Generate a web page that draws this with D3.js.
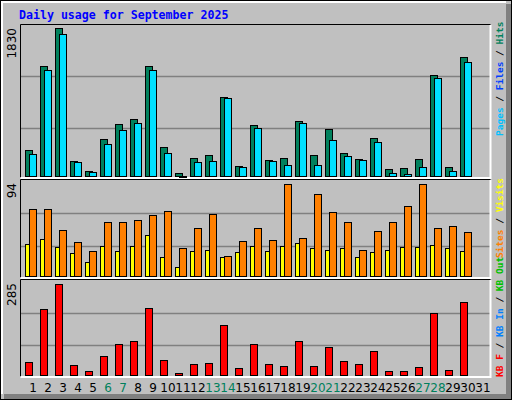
<!DOCTYPE html>
<html>
<head>
<meta charset="utf-8">
<script src="https://cdn.jsdelivr.net/npm/d3@7"></script>
<style>
  body { margin: 0; background: #fff; }
  svg text { font-family: "DejaVu Sans Mono", monospace; }
</style>
</head>
<body>
<svg id="chart" width="512" height="400"></svg>
<script>
// ---- Data
const days = d3.range(1, 32);
const weekendDays = [6, 7, 13, 14, 20, 21, 27, 28];
const hits   = [348, 1348, 1793, 216, 96, 481, 649, 710, 1348, 385, 72, 252, 288, 975, 156, 637,
                228, 252, 686, 288, 589, 312, 240, 493, 120, 132, 240, 1239, 144, 1444, null];
const files  = [300, 1291, 1725, 204, 84, 421, 577, 662, 1300, 312, 39, 204, 216, 963, 144, 601,
                216, 168, 662, 168, 469, 276, 228, 445, 72, 60, 144, 1203, 96, 1396, null];
const visits = [33, 38, 30, 25, 16, 31, 27, 31, 42, 21, 11, 27, 28, 21, 26, 31,
                27, 31, 34, 29, 28, 29, 21, 26, 28, 30, 30, 32, 29, 27, null];
const sites  = [66, 66, 47, 35, 27, 54, 54, 56, 61, 65, 29, 48, 62, 22, 36, 48,
                37, 90, 39, 81, 64, 54, 28, 46, 54, 69, 90, 48, 50, 45, null];
const kbytes = [46, 201, 273, 37, 20, 63, 98, 109, 204, 52, 14, 40, 43, 155, 29, 98,
                40, 35, 107, 35, 89, 49, 40, 78, 20, 20, 32, 190, 23, 222, null];
const maxLabels = [1830, 94, 285];

const svg = d3.select('#chart');
const W = 512, H = 400;

// ---- Frame
svg.append('rect').attr('x', 0).attr('y', 0).attr('width', W).attr('height', H).attr('fill', '#c0c0c0');
svg.append('rect').attr('x', W - 6).attr('y', 4).attr('width', 6).attr('height', H - 4).attr('fill', '#808080');
svg.append('rect').attr('x', 4).attr('y', H - 6).attr('width', W - 4).attr('height', 6).attr('fill', '#808080');
svg.append('path').attr('d', `M1.5,${H - 6} V1.5 H${W - 6}`).attr('fill', 'none').attr('stroke', '#fff').attr('stroke-width', 3);
svg.append('rect').attr('x', 0.5).attr('y', 0.5).attr('width', W - 1).attr('height', H - 1)
    .attr('fill', 'none').attr('stroke', '#000');

svg.append('text').attr('x', 19).attr('y', 19)
    .attr('fill', '#0000ff').attr('font-weight', 'bold').attr('font-size', 11.6)
    .text('Daily usage for September 2025');

// ---- Scales
const x = d3.scaleBand().domain(days).range([20, 20 + 15 * 31]);
const panels = [
  { top: 25, bottom: 177, max: maxLabels[0] },
  { top: 180, bottom: 277, max: maxLabels[1] },
  { top: 280, bottom: 376, max: maxLabels[2] }
];
panels.forEach(p => {
  const step = (p.bottom + 2 - p.top) / 3;
  p.y = d3.scaleLinear().domain([0, p.max]).range([p.top + 3 * step, p.top]);
});

// ---- Panels
panels.forEach((p, i) => {
  const g = svg.append('g');
  g.append('rect').attr('x', 20).attr('y', p.top).attr('width', 470).attr('height', p.bottom - p.top)
      .attr('fill', '#c0c0c0');
  [p.max / 3, p.max * 2 / 3].forEach(v => {
    g.append('line').attr('x1', 21).attr('x2', 490)
        .attr('y1', Math.round(p.y(v)) + 0.5).attr('y2', Math.round(p.y(v)) + 0.5)
        .attr('stroke', '#808080').attr('stroke-width', 1.5);
  });
  g.append('path').attr('d', `M20.5,${p.bottom + 0.5} V${p.top - 0.5} H490.5`)
      .attr('fill', 'none').attr('stroke', '#000');
  g.append('path').attr('d', `M20.5,${p.bottom + 1} H490.5 V${p.top}`)
      .attr('fill', 'none').attr('stroke', '#fff').attr('stroke-width', 2);
  svg.append('text')
      .attr('transform', `translate(16,${p.top + 3}) rotate(-90)`)
      .attr('text-anchor', 'end')
      .attr('font-family', 'DejaVu Sans').attr('font-size', 12).attr('fill', '#000')
      .style('font-family', '"DejaVu Sans", sans-serif')
      .text(p.max);
});

function bars(panel, values, dx, w, color) {
  svg.append('g').selectAll('rect')
    .data(days.filter((d, i) => values[i] != null))
    .enter().append('rect')
    .attr('x', d => x(d) + dx + 0.5)
    .attr('y', d => Math.round(panel.y(values[d - 1])) + 0.5)
    .attr('width', w)
    .attr('height', d => Math.max(1, panel.bottom - 1 - Math.round(panel.y(values[d - 1]))))
    .attr('fill', color).attr('stroke', '#000').attr('stroke-width', 1);
}

bars(panels[0], hits, 5, 7, '#00805c');
bars(panels[0], files, 9, 7, '#00e0ff');
bars(panels[1], visits, 5, 4, '#ffff00');
bars(panels[1], sites, 9, 7, '#ff8000');
bars(panels[2], kbytes, 5, 7, '#ff0000');

// ---- Day labels
svg.append('g').selectAll('text')
  .data(days).enter().append('text')
  .attr('x', d => x(d) + 13)
  .attr('y', 392)
  .attr('text-anchor', 'middle')
  .attr('font-size', 12)
  .style('font-family', '"DejaVu Sans", sans-serif')
  .attr('fill', d => weekendDays.includes(d) ? '#00805c' : '#000')
  .text(d => d);

// ---- Right legends
function legend(parts, y, anchor) {
  const t = svg.append('text')
    .attr('transform', `translate(503,${y}) rotate(-90)`)
    .attr('text-anchor', anchor)
    .attr('font-size', 9.5).attr('font-weight', 'bold');
  parts.forEach(([s, c]) => t.append('tspan').attr('fill', c).text(s));
}
legend([['Pages', '#00c0ff'], [' / ', '#000'], ['Files', '#0040ff'], [' / ', '#000'], ['Hits', '#00805c']], 136, 'start');
legend([['Sites', '#ff8000'], [' / ', '#000'], ['Visits', '#ffff00']], 178, 'end');
legend([['KB F', '#ff0000'], [' / ', '#000'], ['KB In', '#0080ff'], [' / ', '#000'], ['KB Out', '#00c000']], 377, 'start');
</script>
</body>
</html>
